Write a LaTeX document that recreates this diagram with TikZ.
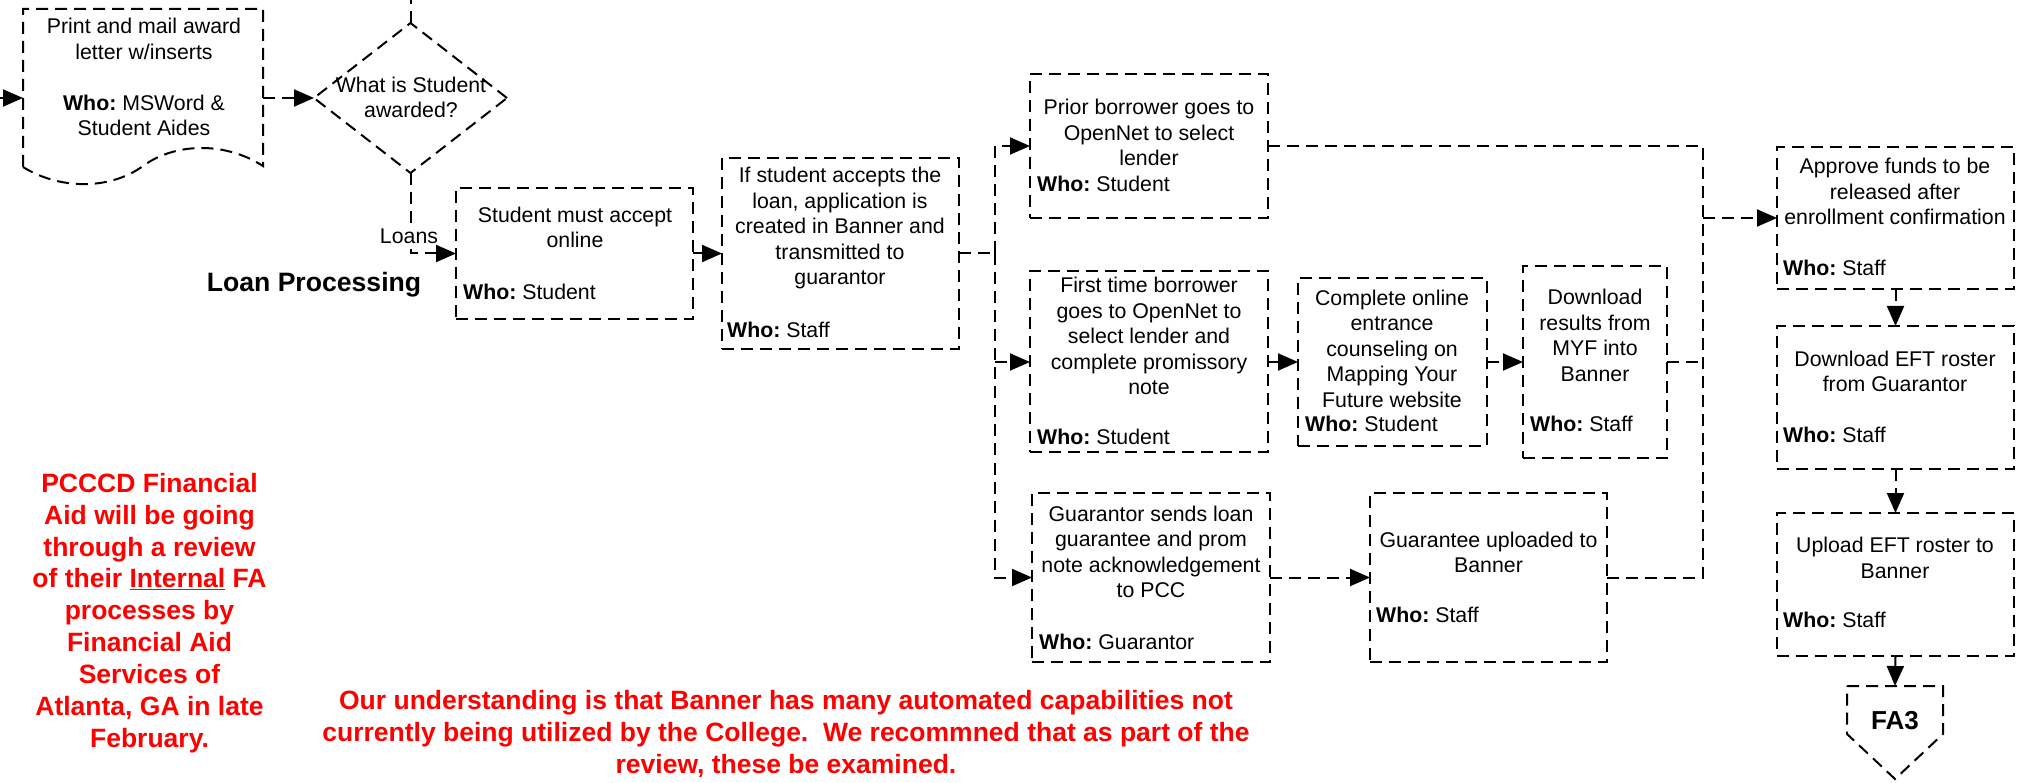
\documentclass[tikz,border=0pt]{standalone}
\usepackage{fontspec}
\setmainfont{Liberation Sans}
\usetikzlibrary{arrows.meta,shapes.geometric}
\frenchspacing
\begin{document}
\begin{tikzpicture}[x=1pt,y=-1pt,
  dsh/.style={line width=2pt, dash pattern=on 12pt off 7pt},
  box/.style={dsh, draw, rectangle, inner sep=0pt, outer sep=0pt},
  ghost/.style={rectangle, inner sep=0pt, outer sep=0pt},
  arr/.style={dsh, -{Triangle[length=20pt,width=17pt]}},
  ln/.style={dsh},
  txt/.style={font=\fontsize{21.3}{25.5}\selectfont, align=center, inner sep=0pt},
  who/.style={font=\fontsize{21.3}{25.5}\selectfont, anchor=west, inner sep=0pt},
  redtxt/.style={font=\bfseries\fontsize{26.5}{31.9}\selectfont, text=red, align=center, inner sep=0pt},
  bigbold/.style={font=\bfseries\fontsize{26.6}{31.9}\selectfont, inner sep=0pt}
]
\fill[white] (0,0) rectangle (2038,783);
\useasboundingbox (0,0) rectangle (2038,783);

% document shape
\node[ghost, minimum width=240pt, minimum height=157pt] (doc) at (143,87.5) {};
\draw[dsh] (23,167) -- (23,9) -- (263,9) -- (263,166)
  .. controls (226,142) and (176,142) .. (143,166)
  .. controls (110,190) and (60,190) .. (23,167) -- cycle;
\node[txt] (docT) at (144,77) {Print and mail award\\letter w/inserts\\[25.5pt]\textbf{Who:} MSWord \&\\Student Aides};

% decision
\node[diamond, dsh, draw, inner sep=0pt, outer sep=0pt, minimum width=193pt, minimum height=150pt] (dia) at (410.5,98) {};
\node[txt] (diaT) at (411,97.5) {What is Student\\awarded?};

\node[bigbold] (title) at (314,285) {Loan Processing};

% boxes
\node[box, minimum width=237pt, minimum height=131pt] (accept) at (574.5,253.5) {};
\node[txt] (acceptT) at (575,227.5) {Student must accept\\online};
\node[who] (acceptW) at (463,292) {\textbf{Who:} Student};

\node[box, minimum width=237pt, minimum height=191pt] (ifbox) at (840.5,253.5) {};
\node[txt] (ifT) at (840,228) {If student accepts the\\loan, application is\\created in Banner and\\transmitted to\\guarantor};
\node[who] (ifW) at (727,330) {\textbf{Who:} Staff};

\node[box, minimum width=238pt, minimum height=144pt] (prior) at (1149,146) {};
\node[txt] (priorT) at (1149,132.5) {Prior borrower goes to\\OpenNet to select\\lender};
\node[who] (priorW) at (1037,184) {\textbf{Who:} Student};

\node[box, minimum width=238pt, minimum height=181pt] (first) at (1149,362) {};
\node[txt] (firstT) at (1149,336) {First time borrower\\goes to OpenNet to\\select lender and\\complete promissory\\note};
\node[who] (firstW) at (1037,437) {\textbf{Who:} Student};

\node[box, minimum width=189pt, minimum height=168pt] (complete) at (1392.5,362) {};
\node[txt] (completeT) at (1392,348.5) {Complete online\\entrance\\counseling on\\Mapping Your\\Future website};
\node[who] (completeW) at (1305,424) {\textbf{Who:} Student};

\node[box, minimum width=144pt, minimum height=192pt] (dlmyf) at (1595,362) {};
\node[txt] (dlmyfT) at (1595,335.5) {Download\\results from\\MYF into\\Banner};
\node[who] (dlmyfW) at (1530,424) {\textbf{Who:} Staff};

\node[box, minimum width=238pt, minimum height=169pt] (gsend) at (1151,577.5) {};
\node[txt] (gsendT) at (1151,552) {Guarantor sends loan\\guarantee and prom\\note acknowledgement\\to PCC};
\node[who] (gsendW) at (1039,642) {\textbf{Who:} Guarantor};

\node[box, minimum width=237pt, minimum height=169pt] (gup) at (1488.5,577.5) {};
\node[txt] (gupT) at (1488.5,552.5) {Guarantee uploaded to\\Banner};
\node[who] (gupW) at (1376,615) {\textbf{Who:} Staff};

\node[box, minimum width=237pt, minimum height=142pt] (approve) at (1895.5,218) {};
\node[txt] (approveT) at (1895,191.5) {Approve funds to be\\released after\\enrollment confirmation};
\node[who] (approveW) at (1783,268) {\textbf{Who:} Staff};

\node[box, minimum width=237pt, minimum height=143pt] (eft) at (1895.5,397.5) {};
\node[txt] (eftT) at (1895,371.5) {Download EFT roster\\from Guarantor};
\node[who] (eftW) at (1783,435) {\textbf{Who:} Staff};

\node[box, minimum width=237pt, minimum height=143pt] (upload) at (1895.5,584.5) {};
\node[txt] (uploadT) at (1895,558) {Upload EFT roster to\\Banner};
\node[who] (uploadW) at (1783,620) {\textbf{Who:} Staff};

% off-page connector
\node[ghost, minimum width=96pt, minimum height=93pt] (fa3) at (1895,732.5) {};
\draw[dsh] (1847,686) -- (1943,686) -- (1943,734) -- (1895,779) -- (1847,734) -- cycle;
\node[font=\bfseries\fontsize{26}{30}\selectfont, inner sep=0pt] (fa3T) at (1895,721) {FA3};

% connectors
\coordinate (start) at (0,98);
\coordinate (topout) at (410.5,0);
\coordinate (j1) at (995,253.5);
\coordinate (j2) at (1703,218);
\draw[arr] (start) -- (start -| doc.west);
\draw[arr] (dia.west -| doc.east) -- (dia.west);
\draw[ln] (dia.north) -- (topout);
\draw[arr] (dia.south) |- (accept.west);
\node[font=\fontsize{21.3}{25.5}\selectfont, fill=white, inner sep=1pt] (loans) at (409,236) {Loans};
\draw[arr] (accept.east) -- (ifbox.west);
\draw[ln] (ifbox.east) -- (j1);
\draw[arr] (j1) |- (prior.west);
\draw[arr] (first.west -| j1) -- (first.west);
\draw[arr] (j1) |- (gsend.west);
\draw[arr] (first.east) -- (complete.west);
\draw[arr] (complete.east) -- (dlmyf.west);
\draw[arr] (gsend.east) -- (gup.west);
\draw[ln] (prior.east) -| (j2);
\draw[ln] (dlmyf.east) -- (dlmyf.east -| j2);
\draw[ln] (gup.east) -| (j2);
\draw[arr] (j2) -- (approve.west);
\draw[arr] (approve.south) -- (eft.north);
\draw[arr] (eft.south) -- (upload.north);
\draw[arr] (upload.south) -- (fa3.north);

% red notes
\node[redtxt] (note1) at (149.5,613) {PCCCD Financial\\Aid will be going\\through a review\\of their \underline{Internal} FA\\processes by\\Financial Aid\\Services of\\Atlanta, GA in late\\February.};
\node[redtxt] (note2) at (786,734) {Our understanding is that Banner has many automated capabilities not\\currently being utilized by the College.~ We recommned that as part of the\\review, these be examined.};
\end{tikzpicture}
\end{document}
